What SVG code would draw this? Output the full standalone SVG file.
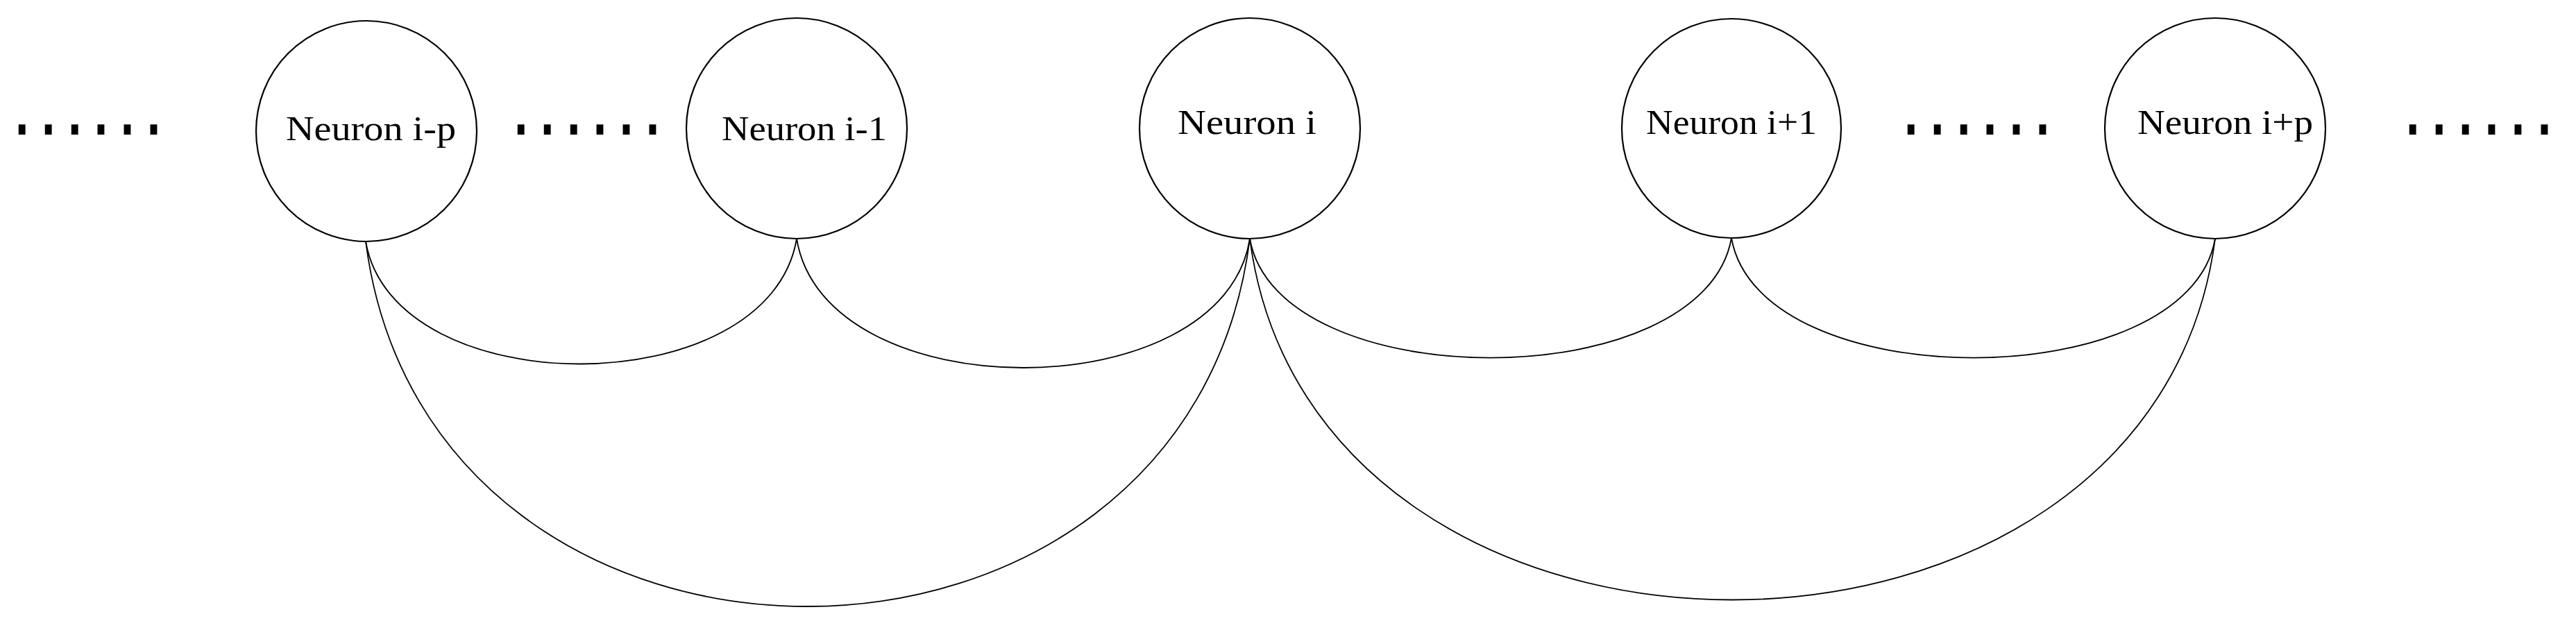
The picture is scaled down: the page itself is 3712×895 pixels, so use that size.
<svg xmlns="http://www.w3.org/2000/svg" width="3712" height="895" viewBox="0 0 3712 895">
<style>
.node{fill:none;stroke:#000;stroke-width:2.2}
.lbl{font-family:"Liberation Serif","DejaVu Serif",serif;font-size:50px;fill:#000}
.dots{font-family:"Liberation Sans",Arial,sans-serif;font-weight:bold;font-size:70px;letter-spacing:18.5px;fill:#000}
.edge{fill:none;stroke:#000;stroke-width:1.8}
</style>
<rect width="3712" height="895" fill="#fff"/>
<g id="dots-1" transform="translate(22,194) scale(1,1.4)"><text class="dots" x="0" y="0">......</text></g>
<g id="dots-2" transform="translate(741,194) scale(1,1.4)"><text class="dots" x="0" y="0">......</text></g>
<g id="dots-3" transform="translate(2744,194) scale(1,1.4)"><text class="dots" x="0" y="0">......</text></g>
<g id="dots-4" transform="translate(3467,194) scale(1,1.4)"><text class="dots" x="0" y="0">......</text></g>
<g id="neuron-i-p"><circle class="node" cx="528" cy="189" r="159"/><text class="lbl" x="412" y="202" textLength="245" lengthAdjust="spacingAndGlyphs">Neuron i-p</text></g>
<g id="neuron-i-1"><circle class="node" cx="1148" cy="185" r="159"/><text class="lbl" x="1040" y="202" textLength="238" lengthAdjust="spacingAndGlyphs">Neuron i-1</text></g>
<g id="neuron-i"><circle class="node" cx="1801" cy="185" r="159"/><text class="lbl" x="1697" y="193" textLength="200" lengthAdjust="spacingAndGlyphs">Neuron i</text></g>
<g id="neuron-i+1"><circle class="node" cx="2495" cy="185" r="158"/><text class="lbl" x="2372" y="193" textLength="246" lengthAdjust="spacingAndGlyphs">Neuron i+1</text></g>
<g id="neuron-i+p"><circle class="node" cx="3192" cy="185" r="159"/><text class="lbl" x="3080" y="193" textLength="253" lengthAdjust="spacingAndGlyphs">Neuron i+p</text></g>
<g id="connectors">
<path class="edge" d="M527,348 C567,584 1108,584 1148,344"/>
<path class="edge" d="M1148,344 C1188,592 1762,592 1801,344"/>
<path class="edge" d="M527,348 C617,1050 1712,1050 1801,344"/>
<path class="edge" d="M1801,344 C1841,573 2455,573 2495,343"/>
<path class="edge" d="M2495,343 C2535,573 3152,573 3192,344"/>
<path class="edge" d="M1801,344 C1891,1038 3102,1038 3192,344"/>
</g>
</svg>
